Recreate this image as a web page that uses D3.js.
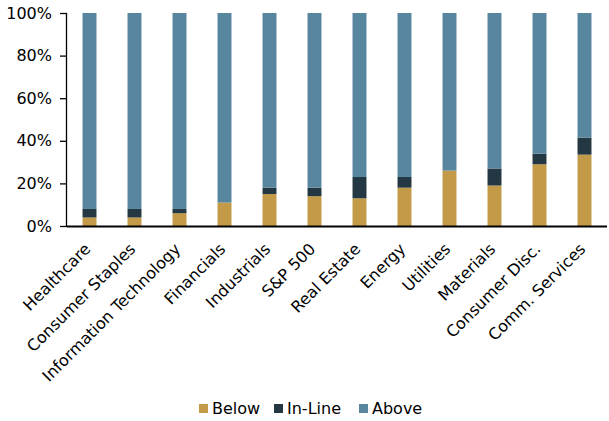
<!DOCTYPE html>
<html><head><meta charset="utf-8">
<script src="https://cdn.jsdelivr.net/npm/d3@7"></script>
<style>body{margin:0;background:#fff;} svg{display:block;}</style>
</head><body>
<svg id="c" width="609" height="421"></svg>
<script>
const categories = ["Healthcare","Consumer Staples","Information Technology","Financials","Industrials","S&P 500","Real Estate","Energy","Utilities","Materials","Consumer Disc.","Comm. Services"];
const below  = [4, 4, 6, 11, 15, 14, 13, 18, 26, 19, 29, 33.5];
const inline = [4, 4, 2, 0, 3, 4, 10, 5, 0, 8, 5, 8];
const above  = below.map((b,i)=>100-b-inline[i]);
const seriesNames = ["Below","In-Line","Above"];
const colors = ["#C39A48","#233842","#57869E"];
const yTicks = [0,20,40,60,80,100];

const svg = d3.select("#c");
const font = "Verdana, 'DejaVu Sans', sans-serif";
const m = {l:67, r:2};
const W = 609;
const x = d3.scaleBand().domain(categories).range([m.l, W-m.r]).paddingInner(0.69).paddingOuter(0.345);
const y = d3.scaleLinear().domain([0,100]).range([226, 13]);

const rows = categories.map((c,i)=>({cat:c, Below:below[i], "In-Line":inline[i], Above:above[i]}));
const stack = d3.stack().keys(seriesNames)(rows);

svg.selectAll("g.s").data(stack).join("g").attr("fill",(d,i)=>colors[i])
  .selectAll("rect").data(d=>d).join("rect")
  .attr("x",d=>x(d.data.cat)).attr("width",x.bandwidth())
  .attr("y",d=>y(d[1])).attr("height",d=>y(d[0])-y(d[1]));

const ya = svg.append("g").attr("transform",`translate(${m.l},0)`)
  .call(d3.axisLeft(y).tickValues(yTicks).tickFormat(d=>d+"%").tickSize(7).tickPadding(8));
ya.select(".domain").attr("d",`M-0.5,${y(100)}V${y(0)}`);
ya.selectAll("text").style("font-family",font).style("font-size","16px").attr("fill","#000");
ya.selectAll("line,path").attr("stroke","#000").attr("stroke-width",1.3);

const xa = svg.append("g").attr("transform",`translate(0,${y(0)})`)
  .call(d3.axisBottom(x).tickSize(0).tickPadding(0));
xa.select(".domain").attr("d",`M${m.l},0.5H${W-m.r}`).attr("stroke","#000").attr("stroke-width",2);
xa.selectAll("text").style("font-family",font).style("font-size","16px").attr("fill","#000")
  .attr("text-anchor","end").attr("dy","0").attr("y",0)
  .attr("transform","translate(2,24) rotate(-45)");

const lg = svg.append("g").attr("transform","translate(0,408.5)");
const legX = [199, 274, 359];
seriesNames.forEach((n,i)=>{
  const g = lg.append("g").attr("transform",`translate(${legX[i]},0)`);
  g.append("rect").attr("x",0).attr("y",-4.5).attr("width",9).attr("height",9).attr("fill",colors[i]);
  g.append("text").attr("x",13).attr("y",0).attr("dy","0.35em").text(n)
    .style("font-family",font).style("font-size","16px");
});
</script>
</body></html>
